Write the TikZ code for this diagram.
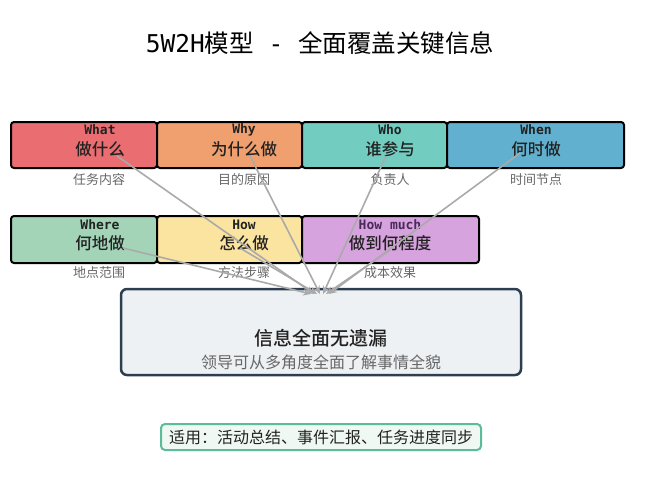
\documentclass[tikz,border=0pt]{standalone}
\usepackage{fontspec}
\setmainfont{Noto Sans CJK SC}
\newfontfamily\cjk{Noto Sans CJK SC}
\newfontfamily\cjkmed{Noto Sans CJK SC}[UprightFont=* Medium]
\newfontfamily\monofont{DejaVu Sans Mono}
\usetikzlibrary{arrows.meta}
\definecolor{cWhat}{HTML}{EA6D72}
\definecolor{cWhy}{HTML}{F0A06E}
\definecolor{cWho}{HTML}{72CDC0}
\definecolor{cWhen}{HTML}{62B0D0}
\definecolor{cWhere}{HTML}{A3D4B8}
\definecolor{cHow}{HTML}{FBE4A0}
\definecolor{cHowMuch}{HTML}{D6A3DE}
\definecolor{cCenterFill}{HTML}{EEF1F4}
\definecolor{cCenterLine}{HTML}{2C3E50}
\definecolor{cGreenLine}{HTML}{5DBB9A}
\definecolor{cGreenFill}{HTML}{F0F8F4}
\definecolor{cSub}{HTML}{666666}
\definecolor{cArrow}{HTML}{AAAAAA}
\definecolor{cText}{HTML}{222222}
\definecolor{cPurpleText}{HTML}{4A2A5A}
\tikzset{
  wbox/.style={draw=black, line width=2pt, rounded corners=3pt},
  entxt/.style={font=\monofont\bfseries\fontsize{13}{13}\selectfont, text=cText, inner sep=0pt},
  cntxt/.style={font=\cjkmed\fontsize{16.5}{16.5}\selectfont, text=cText, inner sep=0pt},
  subtxt/.style={font=\cjk\fontsize{13}{13}\selectfont, text=cSub, inner sep=0pt},
  link/.style={draw=cArrow, line width=1.6pt, -{Stealth[length=8pt,width=7pt]}},
}
\begin{document}
\begin{tikzpicture}[x=1pt,y=-1pt]
\useasboundingbox (0,0) rectangle (648,485);
% title
\node[font=\cjk\fontsize{24.5}{24.5}\selectfont, text=black] (title) at (320,43) {{\monofont 5W2H}模型{\monofont{} - }全面覆盖关键信息};
% center box
\draw[line width=2.5pt, draw=cCenterLine, fill=cCenterFill, rounded corners=6pt] (121,289) rectangle (521,375);
\node[font=\cjkmed\fontsize{19}{19}\selectfont, text=cText] (main) at (321,338) {信息全面无遗漏};
\node[font=\cjk\fontsize{16}{16}\selectfont, text=cSub] (mainsub) at (321,362) {领导可从多角度全面了解事情全貌};
% row 1
\draw[wbox, fill=cWhat] (11,122) rectangle (157,168);
\draw[wbox, fill=cWhy] (157,122) rectangle (302,168);
\draw[wbox, fill=cWho] (302,122) rectangle (447,168);
\draw[wbox, fill=cWhen] (447,122) rectangle (624,168);
\node[entxt] (whaten) at (100,130) {What};
\node[cntxt] (whatcn) at (100,149) {做什么};
\node[subtxt] (whatsub) at (99,180) {任务内容};
\node[entxt] (whyen) at (244,130) {Why};
\node[cntxt] (whycn) at (244,149) {为什么做};
\node[subtxt] (whysub) at (244,180) {目的原因};
\node[entxt] (whoen) at (390,130) {Who};
\node[cntxt] (whocn) at (390,149) {谁参与};
\node[subtxt] (whosub) at (390,180) {负责人};
\node[entxt] (whenen) at (536,130) {When};
\node[cntxt] (whencn) at (536,149) {何时做};
\node[subtxt] (whensub) at (536,180) {时间节点};
% row 2
\draw[wbox, fill=cWhere] (11,216) rectangle (157,263);
\draw[wbox, fill=cHow] (157,216) rectangle (302,263);
\draw[wbox, fill=cHowMuch] (302,216) rectangle (479,263);
\node[entxt] (whereen) at (100,225) {Where};
\node[cntxt] (wherecn) at (100,243) {何地做};
\node[subtxt] (wheresub) at (99,273) {地点范围};
\node[entxt] (howen) at (244,225) {How};
\node[cntxt] (howcn) at (244,243) {怎么做};
\node[subtxt] (howsub) at (244,273) {方法步骤};
\node[entxt, text=cPurpleText] (howmuchen) at (390,225) {How much};
\node[cntxt] (howmuchcn) at (390,243) {做到何程度};
\node[subtxt] (howmuchsub) at (390,273) {成本效果};
% arrow targets
\coordinate (t1) at (311,294);
\coordinate (t2) at (314,294);
\coordinate (t3) at (317,294);
\coordinate (t4) at (320,294);
\coordinate (t5) at (323,294);
\coordinate (t6) at (326,294);
\coordinate (t7) at (329,294);
\coordinate (s1) at (117,156);
\coordinate (s2) at (250,156);
\coordinate (s3) at (386,156);
\coordinate (s4) at (520,153);
\coordinate (s5) at (123,248);
\coordinate (s6) at (240,248);
\coordinate (s7) at (390,250);
\draw[link] (s5) -- (t1);
\draw[link] (s1) -- (t2);
\draw[link] (s6) -- (t3);
\draw[link] (s2) -- (t4);
\draw[link] (s3) -- (t5);
\draw[link] (s7) -- (t6);
\draw[link] (s4) -- (t7);
% bottom box
\draw[line width=2pt, draw=cGreenLine, fill=cGreenFill, rounded corners=4pt] (161,424) rectangle (481,450);
\node[font=\cjk\fontsize{16}{16}\selectfont, text=cText] (apply) at (321,437) {适用：活动总结、事件汇报、任务进度同步};
\end{tikzpicture}
\end{document}
